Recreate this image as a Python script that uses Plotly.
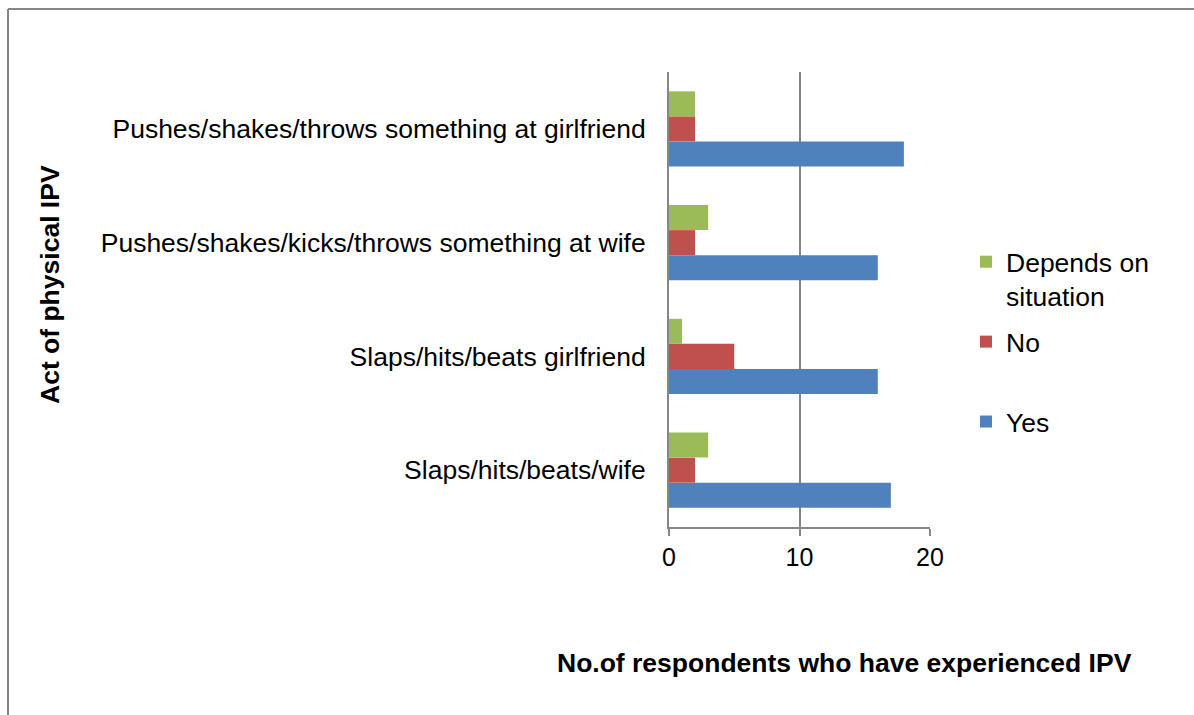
import plotly.graph_objects as go

categories = ["Slaps/hits/beats/wife", "Slaps/hits/beats girlfriend",
              "Pushes/shakes/kicks/throws something at wife",
              "Pushes/shakes/throws something at girlfriend"]
yes_vals = [17, 16, 16, 18]
no_vals = [2, 5, 2, 2]
depends_vals = [3, 1, 3, 2]
x_ticks = [0, 10, 20]

W, H = 1194, 715
L, R, T, B = 669, 930, 72, 527

def px(x):
    return (x - L) / (R - L)

def py(y):
    return 1 - (y - T) / (B - T)

font = "Liberation Sans, Arial, sans-serif"
FS = 26.5
fig = go.Figure()
fig.add_trace(go.Bar(y=categories, x=yes_vals, name="Yes", orientation="h",
                     marker=dict(color="#4F81BD", line=dict(width=0)), legendgroup="a", legendrank=3))
fig.add_trace(go.Bar(y=categories, x=no_vals, name="No<br> ", orientation="h",
                     marker=dict(color="#C0504D", line=dict(width=0)), legendgroup="b", legendrank=2))
fig.add_trace(go.Bar(y=categories, x=depends_vals, name="Depends on<br>situation", orientation="h",
                     marker=dict(color="#9BBB59", line=dict(width=0)), legendgroup="c", legendrank=1))

fig.update_layout(
    width=W, height=H,
    margin=dict(l=L, r=W - R, t=T, b=H - B, autoexpand=False),
    paper_bgcolor="white", plot_bgcolor="white",
    barmode="group", bargap=0.34, bargroupgap=0,
    font=dict(family=font, size=FS, color="black"),
    showlegend=True,
    legend=dict(x=px(966), y=py(238), xanchor="left", yanchor="top",
                traceorder="grouped", tracegroupgap=8, valign="top",
                font=dict(size=FS, family=font), bgcolor="rgba(0,0,0,0)"),
    xaxis=dict(range=[0, 20], tickvals=x_ticks, showgrid=True, gridcolor="#868686", gridwidth=2,
               zeroline=False, showline=True, linecolor="#868686", linewidth=2,
               ticks="outside", ticklen=7, tickwidth=2, tickcolor="#868686",
               tickfont=dict(size=25), fixedrange=True),
    yaxis=dict(type="category", showgrid=False, zeroline=False, showline=True,
               linecolor="#868686", linewidth=2, ticks="", ticklabelstandoff=16,
               tickfont=dict(size=FS)),
)

fig.add_annotation(text="<b>No.of respondents who have experienced IPV</b>", xref="paper", yref="paper",
                   x=px(844), y=py(663), showarrow=False, font=dict(size=FS, family=font),
                   xanchor="center", yanchor="middle")
fig.add_annotation(text="<b>Act of physical IPV</b>", xref="paper", yref="paper",
                   x=px(50), y=py(285), showarrow=False, textangle=-90, font=dict(size=FS, family=font),
                   xanchor="center", yanchor="middle")

# outer chart frame
fig.add_shape(type="line", xref="paper", yref="paper", x0=px(8), x1=px(1200), y0=py(9), y1=py(9),
              line=dict(color="#868686", width=2))
fig.add_shape(type="line", xref="paper", yref="paper", x0=px(8), x1=px(8), y0=py(9), y1=py(720),
              line=dict(color="#868686", width=2))

fig.write_html("out.html")
